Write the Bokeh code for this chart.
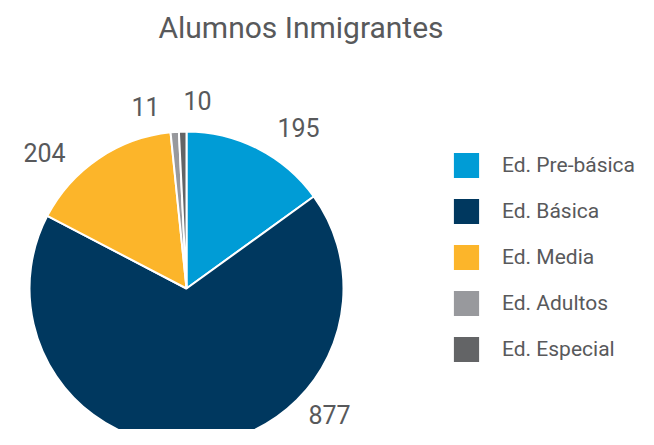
import numpy as np
from bokeh.plotting import figure
from bokeh.models import Range1d, Legend, LegendItem, ColumnDataSource
from bokeh.core.properties import value
from bokeh.embed import file_html
from bokeh.resources import INLINE

# ---- data ----
title_text = "Alumnos Inmigrantes"
categories = ["Ed. Pre-básica", "Ed. Básica", "Ed. Media", "Ed. Adultos", "Ed. Especial"]
counts = [195, 877, 204, 11, 10]
colors = ["#009CD6", "#00385F", "#FCB52A", "#98999D", "#636466"]

# ---- layout (pixel coordinates measured from the top-left of the chart) ----
W, H = 638, 429
REF_H = 445
def Y(py):
    return REF_H - py

cx, cy, radius = 186, Y(288), 157
label_x = [298, 329, 44, 145, 197]
label_mid_y = [127, 414, 152, 106, 100]
TEXT = "#58595B"
FONT = value("Roboto")

vals = np.array(counts, dtype=float)
frac = vals / vals.sum()
cum = np.cumsum(frac)
prev = np.concatenate([[0.0], cum[:-1]])
start = np.pi / 2 - 2 * np.pi * prev
end = np.pi / 2 - 2 * np.pi * cum

src = ColumnDataSource(dict(cat=categories, start=start, end=end, color=colors,
                            lx=label_x, ly=[Y(v) for v in label_mid_y],
                            lab=[str(c) for c in counts]))

p = figure(width=W, height=H, output_backend="svg", toolbar_location=None,
           x_range=Range1d(0, W), y_range=Range1d(REF_H - H, REF_H),
           x_axis_type=None, y_axis_type=None, min_border=0)
p.outline_line_color = None
p.grid.visible = False
p.background_fill_color = "white"
p.border_fill_color = "white"

r = p.wedge(x=cx, y=cy, radius=radius, start_angle="start", end_angle="end",
            direction="clock", fill_color="color", line_color="white", line_width=2,
            source=src)

p.text(x="lx", y="ly", text="lab", source=src, text_align="center",
       text_baseline="middle", text_font=FONT, text_font_size="25px",
       text_color=TEXT)

p.text(x=[300.5], y=[Y(27)], text=[title_text], text_align="center",
       text_baseline="middle", text_font=FONT, text_font_size="30px",
       text_color=TEXT)

# legend: glyph box 34px -> visible square ~25px; box left = 453 - 4
items = [LegendItem(label=c, renderers=[r], index=i) for i, c in enumerate(categories)]
legend = Legend(items=items, location=(449, H - 148 - 218), orientation="vertical",
                glyph_width=34, glyph_height=34, spacing=12, label_standoff=19,
                label_text_font="Roboto", label_text_font_size="21px",
                label_text_color=TEXT, label_text_baseline="middle",
                margin=0, padding=0, border_line_color=None,
                background_fill_alpha=0)
p.add_layout(legend, "center")

open("out.html", "w").write(file_html(p, INLINE))
